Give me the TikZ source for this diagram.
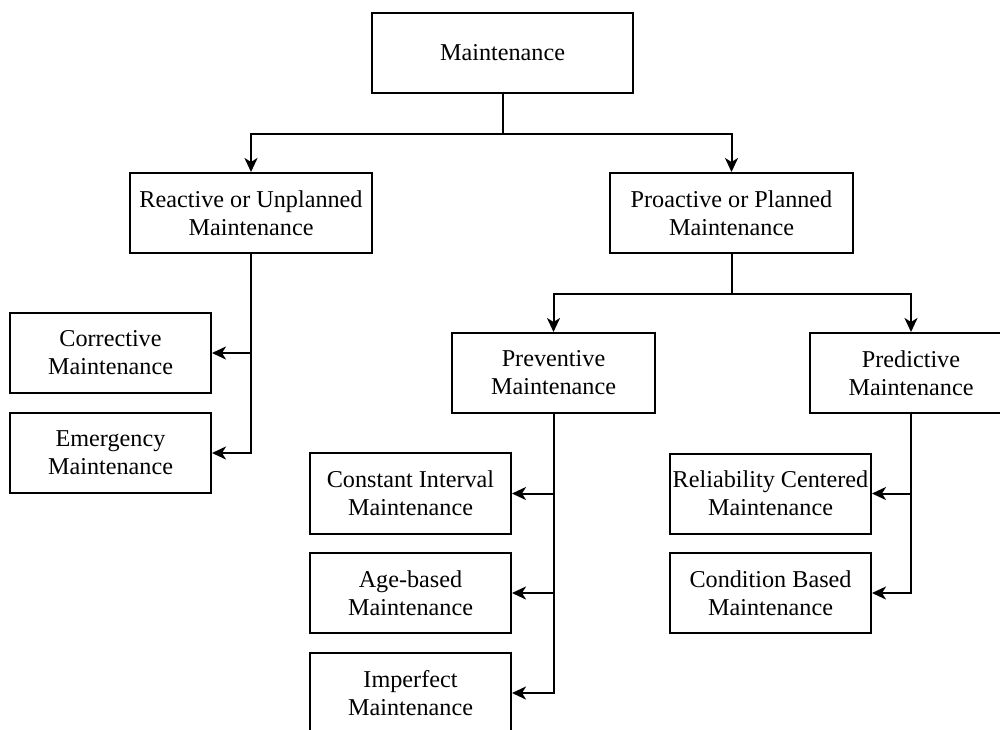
\documentclass[tikz,border=0pt]{standalone}
\usepackage{fontspec}
\setmainfont{Liberation Serif}
\usetikzlibrary{arrows.meta}
\begin{document}
\begin{tikzpicture}[x=0.5pt,y=-0.5pt,
  box/.style={draw=black,line width=1pt,fill=white,align=center,
    inner sep=0pt,font=\fontsize{12.1}{14}\selectfont},
  arr/.style={draw=black,line width=1pt,
    -{Stealth[length=7pt,width=6.5pt,inset=2pt]}}]
\useasboundingbox (0,0) rectangle (1000,729);
\clip (0,0) rectangle (1000,729);

% nodes
\node[box,minimum width=130.5pt,minimum height=40pt] (root) at (502.5,53) {Maintenance};
\node[box,minimum width=121pt,minimum height=40pt] (reactive) at (251,213) {Reactive or Unplanned\\Maintenance};
\node[box,minimum width=121.5pt,minimum height=40pt] (proactive) at (731.5,213) {Proactive or Planned\\Maintenance};
\node[box,minimum width=100.5pt,minimum height=40pt] (corrective) at (110.5,353) {Corrective\\Maintenance};
\node[box,minimum width=100.5pt,minimum height=40pt] (emergency) at (110.5,453) {Emergency\\Maintenance};
\node[box,minimum width=101.5pt,minimum height=40pt] (preventive) at (553.5,373) {Preventive\\Maintenance};
\node[box,minimum width=101pt,minimum height=40pt] (predictive) at (911,373) {Predictive\\Maintenance};
\node[box,minimum width=100.5pt,minimum height=40.5pt] (constant) at (410.5,493.5) {Constant Interval\\Maintenance};
\node[box,minimum width=100.5pt,minimum height=40pt] (age) at (410.5,593) {Age-based\\Maintenance};
\node[box,minimum width=100.5pt,minimum height=40pt] (imperfect) at (410.5,693) {Imperfect\\Maintenance};
\node[box,minimum width=100.5pt,minimum height=40pt] (reliability) at (770.5,493.5) {Reliability Centered\\Maintenance};
\node[box,minimum width=100.5pt,minimum height=40pt] (condition) at (770.5,593) {Condition Based\\Maintenance};

% connectors
\draw[arr] (root.south) -- ++(0,40) -| (reactive.north);
\draw[arr] (root.south) -- ++(0,40) -| (proactive.north);
\draw[arr] (proactive.south) -- ++(0,40) -| (preventive.north);
\draw[arr] (proactive.south) -- ++(0,40) -| (predictive.north);
\draw[arr] (reactive.south) |- (corrective.east);
\draw[arr] (reactive.south) |- (emergency.east);
\draw[arr] (preventive.south) |- (constant.east);
\draw[arr] (preventive.south) |- (age.east);
\draw[arr] (preventive.south) |- (imperfect.east);
\draw[arr] (predictive.south) |- (reliability.east);
\draw[arr] (predictive.south) |- (condition.east);
\end{tikzpicture}
\end{document}
